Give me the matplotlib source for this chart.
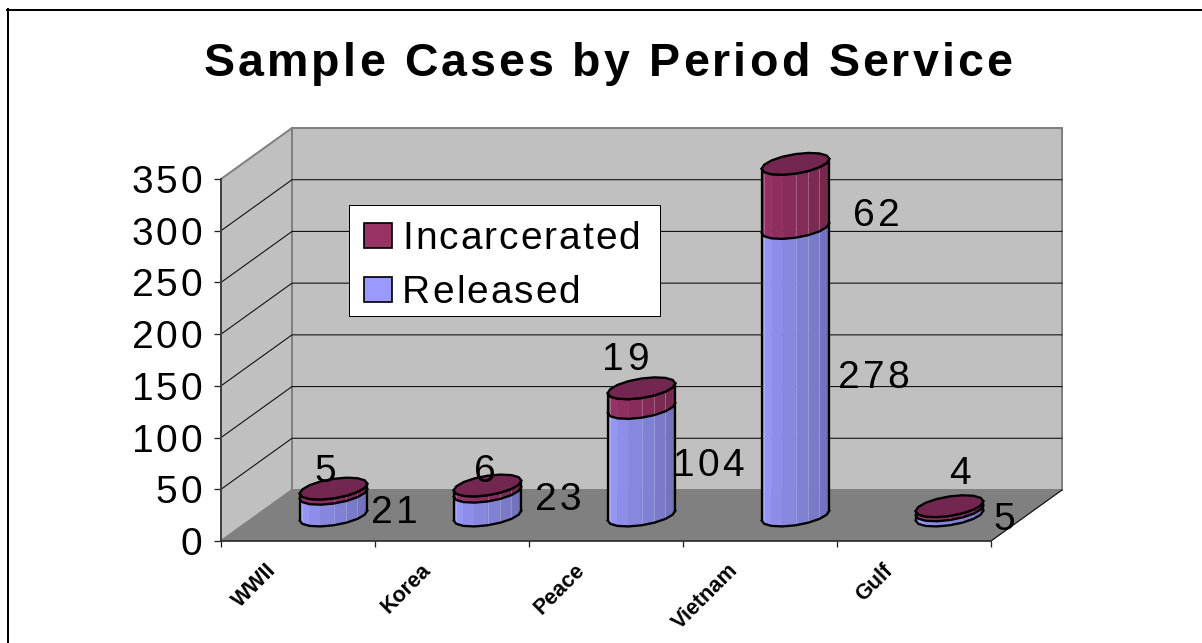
import numpy as np
import matplotlib
matplotlib.use("Agg")
import matplotlib.pyplot as plt
from matplotlib import font_manager
from matplotlib.lines import Line2D
from matplotlib.patches import Patch, Polygon, Rectangle
from matplotlib.text import Text
from matplotlib.transforms import Affine2D, Bbox, IdentityTransform, ScaledTranslation

plt.rcParams['font.family'] = ['Liberation Sans', 'DejaVu Sans']

TITLE = "Sample Cases by Period Service"
periods = ["WWII", "Korea", "Peace", "Vietnam", "Gulf"]
released = [21, 23, 104, 278, 5]
incarcerated = [5, 6, 19, 62, 4]
y_ticks = [0, 50, 100, 150, 200, 250, 300, 350]

W, H = 1202, 643
DPI = 100
PLOT_L, PLOT_R, PLOT_T, PLOT_B = 221, 991, 179, 541


class TrackedText(Text):
    """Horizontal text drawn with extra space between its letters."""
    tracking = 0.0

    def _advances(self):
        fp = self.get_fontproperties()
        font = font_manager.get_font(font_manager.findfont(fp))
        font.set_size(fp.get_size_in_points(), DPI)
        return [font.load_char(ord(ch)).linearHoriAdvance / 65536 for ch in self.get_text()]

    def _full_width(self):
        adv = self._advances()
        return sum(adv) + self.tracking * (len(adv) - 1)

    def _left(self, box):
        width = self._full_width()
        ha = self.get_ha()
        if ha == "center":
            return (box.x0 + box.x1 - width) / 2
        return box.x1 - width if ha == "right" else box.x0

    def get_window_extent(self, renderer=None, dpi=None):
        box = super().get_window_extent(renderer, dpi)
        left = self._left(box)
        return Bbox.from_extents(left, box.y0, left + self._full_width(), box.y1)

    def draw(self, renderer):
        if not self.get_visible() or not self.get_text():
            return
        box = super().get_window_extent(renderer)
        fp = self.get_fontproperties()
        descent = max(renderer.get_text_width_height_descent(s, fp, False)[2] for s in ("lp", self.get_text()))
        x = self._left(box)
        for ch, adv in zip(self.get_text(), self._advances()):
            glyph = Text(x, box.y0 + descent, ch, fontproperties=fp, color=self.get_color(), ha="left",
                         va="baseline", transform=IdentityTransform())
            glyph.set_figure(self.get_figure())
            Text.draw(glyph, renderer)
            x += adv + self.tracking


def track(text, amount):
    text.__class__ = TrackedText
    text.tracking = amount
    return text


fig = plt.figure(figsize=(W / DPI, H / DPI), dpi=DPI, facecolor="white")
ax = fig.add_axes([PLOT_L / W, 1 - PLOT_B / H, (PLOT_R - PLOT_L) / W, (PLOT_B - PLOT_T) / H])
ax.set_xlim(0, 5)
ax.set_ylim(0, 350)
ax.patch.set_visible(False)

px_per_cat = (PLOT_R - PLOT_L) / 5
px_per_val = (PLOT_B - PLOT_T) / 350
# The oblique depth axis: one unit of depth moves right and up the page.
DEPTH_X = 71 / px_per_cat
DEPTH_Y = 51 / px_per_val
px = 72 / DPI  # points per pixel
pixels = Affine2D().scale(1, -1).translate(0, H)  # figure pixels, origin at the top


def proj(x, v, z):
    return x + z * DEPTH_X, v + z * DEPTH_Y


def face(points, **kw):
    ax.add_patch(Polygon([proj(*p) for p in points], closed=True, clip_on=False, **kw))


# Walls and floor of the box
wall_edge = dict(edgecolor="#808080", linewidth=2 * px)
face([(0, 0, 0), (0, 350, 0), (0, 350, 1), (0, 0, 1)], facecolor="#C0C0C0", zorder=1, **wall_edge)
face([(0, 0, 1), (0, 350, 1), (5, 350, 1), (5, 0, 1)], facecolor="#C0C0C0", zorder=1, **wall_edge)
face([(0, 0, 0), (5, 0, 0), (5, 0, 1), (0, 0, 1)], facecolor="#808080", edgecolor="#808080",
     linewidth=0.5 * px, zorder=1.5)

# Gridlines wrap from the side wall on to the back wall
for v in y_ticks[1:-1]:
    xs, ys = zip(*[proj(0, v, 0), proj(0, v, 1), proj(5, v, 1)])
    ax.plot(xs, ys, color="#111111", lw=1.1 * px, clip_on=False, zorder=2)
xs, ys = zip(*[proj(5, 0, 0), proj(5, 0, 1)])
ax.plot(xs, ys, color="#111111", lw=1.2 * px, clip_on=False, zorder=2)

# Cylinder footprint, as fractions of a category and of the depth
R_X, R_Z, Z_C = 0.196, 0.215, 0.5
FACETS = 8
phase = np.arctan2(R_Z * DEPTH_X, R_X)
front = np.linspace(phase + np.pi, phase + 2 * np.pi, FACETS + 1)
back = np.linspace(phase, phase + np.pi, FACETS + 1)[1:-1]


def ring(i, v, angles):
    cx = i + 0.5 + Z_C * DEPTH_X
    return (cx + R_X * np.cos(angles) + R_Z * np.sin(angles) * DEPTH_X,
            v + (Z_C + R_Z * np.sin(angles)) * DEPTH_Y)


def mix(c0, c1, t):
    return tuple((1 - t) * a + t * b for a, b in zip(c0, c1))


BLUE = ((0x9C / 255, 0x9C / 255, 1.0), (0x6C / 255, 0x6C / 255, 0xB4 / 255))
MAROON = ((0x9C / 255, 0x33 / 255, 0x68 / 255), (0x6E / 255, 0x26 / 255, 0x4A / 255))
TOP = "#732650"
OUTLINE = dict(color="black", lw=2.3 * px, solid_joinstyle="round", clip_on=False, zorder=6)


def segment(i, v0, v1, shades):
    x0, y0 = ring(i, v0, front)
    x1, y1 = ring(i, v1, front)
    for k in range(FACETS):
        t = k / (FACETS - 1)
        ax.add_patch(Polygon([(x0[k], y0[k]), (x0[k + 1], y0[k + 1]), (x1[k + 1], y1[k + 1]), (x1[k], y1[k])],
                             closed=True, facecolor=mix(*shades, t), edgecolor=mix(*shades, t),
                             linewidth=0.4 * px, clip_on=False, zorder=4))
        if k in (1, 4, 5, 6):
            ax.plot([x0[k], x1[k]], [y0[k], y1[k]], color="white", alpha=0.22, lw=1 * px,
                    clip_on=False, zorder=4.5)
    ax.plot(x1, y1, **OUTLINE)


for i, (r, c) in enumerate(zip(released, incarcerated)):
    segment(i, 0, r, BLUE)
    segment(i, r, r + c, MAROON)
    fx, fy = ring(i, 0, front)
    ax.plot(fx, fy, **OUTLINE)
    tx, ty = ring(i, r + c, front)
    ax.plot([fx[0], tx[0]], [fy[0], ty[0]], **OUTLINE)
    ax.plot([fx[-1], tx[-1]], [fy[-1], ty[-1]], **OUTLINE)
    angles = np.concatenate([front, back])
    ex, ey = ring(i, r + c, angles)
    ax.add_patch(Polygon(np.column_stack([ex, ey]), closed=True, facecolor=TOP, edgecolor="black",
                         linewidth=2.3 * px, joinstyle="round", clip_on=False, zorder=6))

# Value labels sit beside or above their segment; offsets are in pixels, y down
released_offsets = [(61, 4), (71, -8), (67, 0), (78, 2), (55, 3)]
incarcerated_offsets = [(-8, -23), (-3, -21), (-16, -42), (81, 16), (10, -38)]
LABEL_PT = 28
DIGIT_TRACKING = 2.8


def value_label(i, v, text, off):
    x, y = proj(i + 0.5, v, Z_C)
    shift = ScaledTranslation(off[0] / DPI, -off[1] / DPI, fig.dpi_scale_trans)
    label = ax.text(x, y, text, transform=ax.transData + shift, ha="center", va="center_baseline",
                    fontsize=LABEL_PT, color="black", clip_on=False, zorder=8)
    track(label, DIGIT_TRACKING)


for i, (r, c) in enumerate(zip(released, incarcerated)):
    value_label(i, r / 2, str(r), released_offsets[i])
    value_label(i, r + c / 2, str(c), incarcerated_offsets[i])

# Axes lines and ticks
for side in ("top", "right"):
    ax.spines[side].set_visible(False)
ax.spines["left"].set(color="#404040", linewidth=2 * px, zorder=3)
ax.spines["bottom"].set(color="#262626", linewidth=1.6 * px, zorder=3)
ax.set_yticks(y_ticks)
ax.set_yticklabels([str(v) for v in y_ticks], fontsize=LABEL_PT)
ax.tick_params(axis="y", length=7 * px, width=1.3 * px, color="#222222", pad=12 * px)
for lab in ax.get_yticklabels():
    track(lab, DIGIT_TRACKING)
ax.set_xticks(range(6))
ax.set_xticklabels([])
ax.tick_params(axis="x", which="major", length=6 * px, width=1.3 * px, color="#222222")
ax.set_xticks(np.arange(5) + 0.5, minor=True)
ax.set_xticklabels(periods, minor=True, rotation=45, ha="right", va="top", rotation_mode="anchor",
                   fontsize=15.5, fontweight="bold")
ax.tick_params(axis="x", which="minor", length=0, pad=19 * px)
shift = ScaledTranslation(-32 / DPI, 0, fig.dpi_scale_trans)
for lab in ax.get_xticklabels(minor=True):
    lab.set_transform(lab.get_transform() + shift)

# Legend on a white box laid over the gridlines
fig.add_artist(Rectangle((349, 205), 311, 111, transform=pixels, facecolor="white", edgecolor="black",
                         linewidth=1 * px, zorder=7))
handles = [Patch(facecolor="#993366", edgecolor="black", linewidth=1.7 * px, label="Incarcerated"),
           Patch(facecolor="#9999FF", edgecolor="black", linewidth=1.7 * px, label="Released")]
leg = fig.legend(handles=handles, loc="upper left", bbox_to_anchor=(349.5 / W, 1 - 207 / H), frameon=False,
                 fontsize=28, borderpad=0.36, borderaxespad=0, handlelength=0.745, handleheight=0.62,
                 handletextpad=0.25, labelspacing=0.47)
leg.set_zorder(9)
for lab in leg.get_texts():
    track(lab, 2.0)

title = fig.text(608 / W, 1 - 76 / H, TITLE, ha="center", va="baseline", fontsize=33.5, fontweight="bold",
                 color="black")
track(title, 3.1)

# The chart frame shows on its left and top edges only
fig.add_artist(Line2D([7.5, 7.5], [9, H], transform=pixels, color="black", lw=2 * px))
fig.add_artist(Line2D([7, W], [9.5, 9.5], transform=pixels, color="black", lw=2 * px))

fig.savefig("out.png", dpi=DPI, facecolor="white")
